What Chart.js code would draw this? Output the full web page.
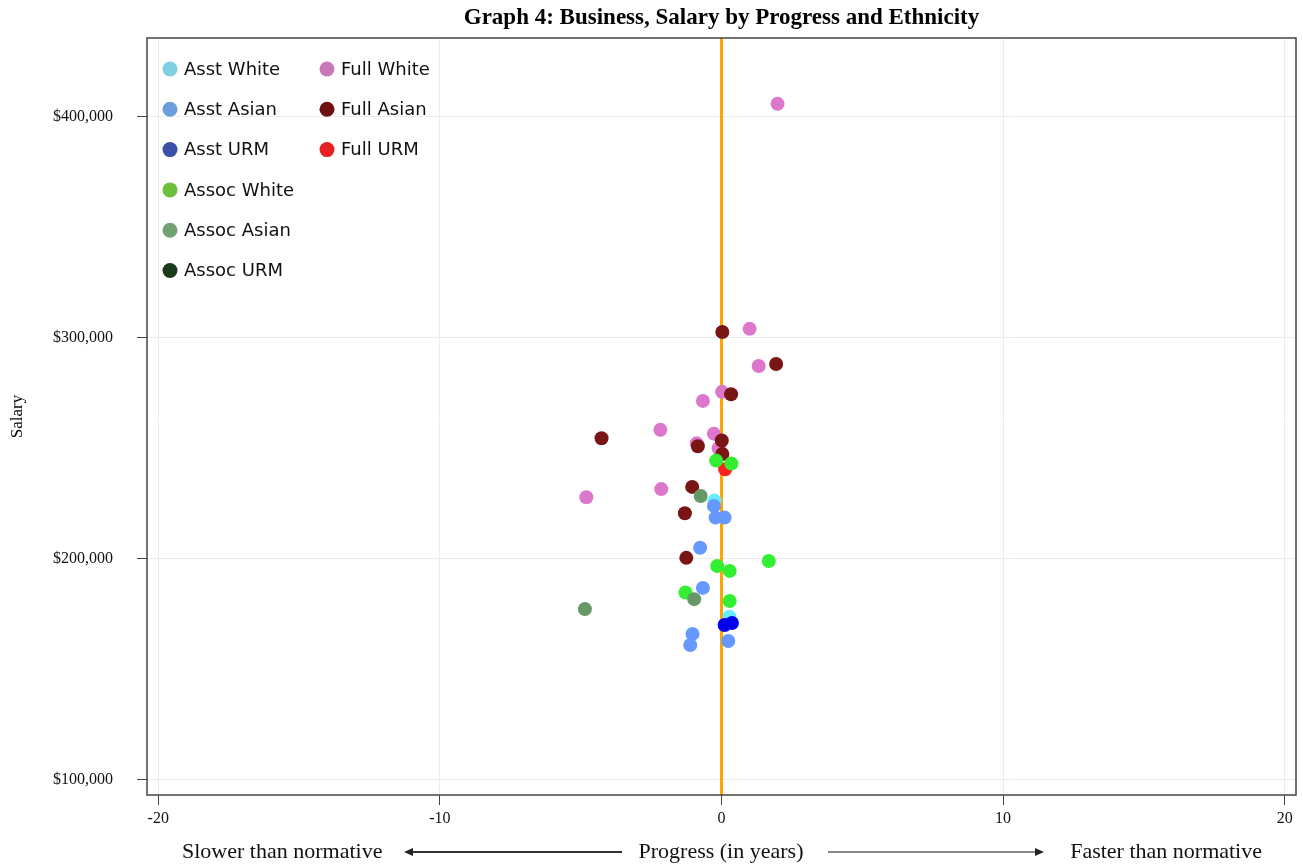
<!DOCTYPE html>
<html>
<head>
<meta charset="utf-8">
<script src="https://cdn.jsdelivr.net/npm/chart.js@4/dist/chart.umd.min.js"></script>
<style>
html,body{margin:0;padding:0;background:#fff;}
#wrap{width:1303px;height:867px;position:relative;}
</style>
</head>
<body>
<div id="wrap"><canvas id="c" width="1303" height="867"></canvas></div>
<script>
// ---- data ----
const groupLabels = ["Asst White","Asst Asian","Asst URM","Assoc White","Assoc Asian","Assoc URM","Full White","Full Asian","Full URM"];

const asstWhiteProgress = [-0.25, 0.28];
const asstWhiteSalary   = [226400, 173900];
const asstAsianProgress = [-0.27, -0.21, 0.11, -0.76, -0.66, -1.03, -1.11, 0.24];
const asstAsianSalary   = [224000, 218700, 218700, 205100, 186900, 166100, 161100, 162900];
const asstUrmProgress   = [0.11, 0.37];
const asstUrmSalary     = [170100, 171000];
const assocWhiteProgress = [-0.19, 0.35, 1.68, -0.15, 0.29, -1.28, 0.29];
const assocWhiteSalary   = [244500, 243200, 199100, 196800, 194600, 184800, 181000];
const assocAsianProgress = [-0.74, -0.97, -4.85];
const assocAsianSalary   = [228500, 181800, 177300];
const assocUrmProgress   = [];
const assocUrmSalary     = [];
const fullWhiteProgress = [1.99, 1.0, 1.32, 0.02, -0.66, -2.17, -0.27, -0.88, -0.10, -2.14, -4.80];
const fullWhiteSalary   = [405900, 304100, 287300, 275600, 271500, 258400, 256700, 252300, 250100, 231600, 227900];
const fullAsianProgress = [0.03, 1.94, 0.34, -4.26, 0.01, -0.84, 0.03, -1.04, -1.30, -1.25];
const fullAsianSalary   = [302700, 288200, 274500, 254600, 253600, 251000, 247500, 232600, 220700, 200500];
const fullUrmProgress   = [0.13];
const fullUrmSalary     = [240600];

const xTicks = [-20, -10, 0, 10, 20];
const yTicks = [100000, 200000, 300000, 400000];

// ---- styles ----
const pointColors  = ["#66eeff","#6699ff","#0000ee","#33ee33","#669966","#1a3a1a","#dd77cc","#7a1515","#ff2020"];
const legendColors = ["#7fd0e0","#6a9fdc","#3a4fa8","#6ec03c","#72a272","#1a3a1a","#c878b8","#6e1010","#e82020"];
const drawOrder    = [3,2,1,6,5,4,9,8,7]; // lower = on top

const groupsX = [asstWhiteProgress, asstAsianProgress, asstUrmProgress, assocWhiteProgress, assocAsianProgress, assocUrmProgress, fullWhiteProgress, fullAsianProgress, fullUrmProgress];
const groupsY = [asstWhiteSalary, asstAsianSalary, asstUrmSalary, assocWhiteSalary, assocAsianSalary, assocUrmSalary, fullWhiteSalary, fullAsianSalary, fullUrmSalary];

const datasets = groupLabels.map((lab, i) => ({
  label: lab,
  data: groupsX[i].map((x, j) => ({x: x, y: groupsY[i][j]})),
  backgroundColor: pointColors[i],
  borderColor: pointColors[i],
  borderWidth: 0,
  pointRadius: 7,
  order: drawOrder[i]
}));

const SERIF = "'Liberation Serif', 'DejaVu Serif', serif";
const SANS = "'DejaVu Sans', Verdana, sans-serif";

const decor = {
  id: 'decor',
  beforeDatasetsDraw(chart) {
    const {ctx, chartArea: a, scales} = chart;
    const x0 = scales.x.getPixelForValue(0);
    ctx.save();
    ctx.strokeStyle = '#ffa500';
    ctx.lineWidth = 3;
    ctx.beginPath();
    ctx.moveTo(x0, a.top);
    ctx.lineTo(x0, a.bottom);
    ctx.stroke();
    ctx.restore();
  },
  afterDraw(chart) {
    const {ctx, chartArea: a} = chart;
    ctx.save();
    // frame
    ctx.strokeStyle = '#444';
    ctx.lineWidth = 1.5;
    ctx.strokeRect(a.left, a.top, a.right - a.left, a.bottom - a.top);
    // title
    ctx.fillStyle = '#000';
    ctx.font = "bold 23px " + SERIF;
    ctx.textAlign = 'center';
    ctx.textBaseline = 'middle';
    ctx.fillText("Graph 4: Business, Salary by Progress and Ethnicity", (a.left + a.right) / 2, 18);
    // y title
    ctx.save();
    ctx.translate(18, (a.top + a.bottom) / 2);
    ctx.rotate(-Math.PI / 2);
    ctx.font = "17px " + SERIF;
    ctx.fillText("Salary", 0, 0);
    ctx.restore();
    // bottom labels
    const yb = 852;
    ctx.font = "22px " + SERIF;
    ctx.textAlign = 'left';
    ctx.fillStyle = '#111';
    ctx.fillText("Slower than normative", 182, yb);
    ctx.textAlign = 'center';
    ctx.fillText("Progress (in years)", 721, yb);
    ctx.textAlign = 'right';
    ctx.fillText("Faster than normative", 1262, yb);
    // left arrow
    ctx.strokeStyle = '#333';
    ctx.lineWidth = 2;
    ctx.beginPath(); ctx.moveTo(622, yb); ctx.lineTo(410, yb); ctx.stroke();
    ctx.fillStyle = '#222';
    ctx.beginPath(); ctx.moveTo(404, yb); ctx.lineTo(413, yb - 4); ctx.lineTo(413, yb + 4); ctx.closePath(); ctx.fill();
    // right arrow
    ctx.strokeStyle = '#888';
    ctx.beginPath(); ctx.moveTo(828, yb); ctx.lineTo(1037, yb); ctx.stroke();
    ctx.fillStyle = '#222';
    ctx.beginPath(); ctx.moveTo(1044, yb); ctx.lineTo(1035, yb - 4); ctx.lineTo(1035, yb + 4); ctx.closePath(); ctx.fill();
    // legend
    ctx.font = "18px " + SANS;
    ctx.textAlign = 'left';
    ctx.textBaseline = 'middle';
    const cols = [[0,1,2,3,4,5],[6,7,8]];
    const colX = [170, 327];
    cols.forEach((col, ci) => {
      col.forEach((gi, ri) => {
        const cy = a.top + 31 + ri * 40.3;
        ctx.fillStyle = legendColors[gi];
        ctx.beginPath(); ctx.arc(colX[ci], cy, 7.5, 0, Math.PI * 2); ctx.fill();
        ctx.fillStyle = '#111';
        ctx.fillText(groupLabels[gi], colX[ci] + 14, cy + 1);
      });
    });
    ctx.restore();
  }
};

new Chart(document.getElementById('c'), {
  type: 'scatter',
  data: { datasets },
  options: {
    responsive: false,
    animation: false,
    devicePixelRatio: 1,
    layout: { padding: { left: 0, right: 5, top: 38, bottom: 0 } },
    plugins: { legend: { display: false }, title: { display: false }, tooltip: { enabled: false } },
    scales: {
      x: {
        type: 'linear',
        min: -20.4, max: 20.4,
        afterBuildTicks: (s) => { s.ticks = xTicks.map(v => ({value: v})); },
        afterFit: (s) => { s.height = 72; },
        grid: { color: '#ececec', lineWidth: 1, tickColor: '#444', tickLength: 10, drawTicks: true },
        border: { display: false },
        ticks: { color: '#111', font: { family: SERIF, size: 16 }, padding: 4, maxRotation: 0,
                 callback: (v) => String(v) }
      },
      y: {
        type: 'linear',
        min: 93200, max: 435700,
        afterBuildTicks: (s) => { s.ticks = yTicks.map(v => ({value: v})); },
        afterFit: (s) => { s.width = 147; },
        grid: { color: '#ececec', lineWidth: 1, tickColor: '#444', tickLength: 10, drawTicks: true },
        border: { display: false },
        ticks: { color: '#111', font: { family: SERIF, size: 16 }, padding: 24,
                 callback: (v) => '$' + v.toLocaleString('en-US') }
      }
    }
  },
  plugins: [decor]
});
</script>
</body>
</html>
